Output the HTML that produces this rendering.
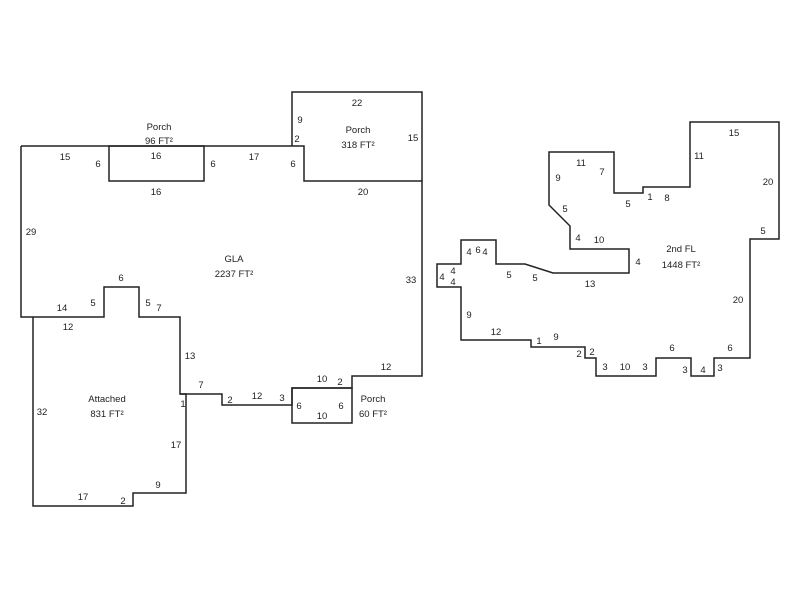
<!DOCTYPE html>
<html><head><style>body{margin:0;background:#fff}svg{display:block}text{font-family:"Liberation Sans",sans-serif;font-size:9.5px;fill:#222;text-anchor:middle}</style></head><body>
<svg width="800" height="600" viewBox="0 0 800 600" xmlns="http://www.w3.org/2000/svg">
<g fill="none" stroke="#222" stroke-width="1.5">
<polyline points="21,146 292,146 304,146 304,181 422,181 422,376 352,376 352,388 292,388 292,405 222,405 222,394 180,394 180,317 139,317 139,287 104,287 104,317 21,317 21,146"/>
<rect x="109" y="146" width="95" height="35"/>
<polyline points="292,146 292,92 422,92 422,181"/>
<rect x="292" y="388" width="60" height="35"/>
<polyline points="33,317 33,506 133,506 133,493 186,493 186,394 180,394"/>
<polygon points="690,122 779,122 779,239 750,239 750,358 714,358 714,376 691,376 691,358 656,358 656,376 596,376 596,358 585,358 585,347 531,347 531,340 461,340 461,287 437,287 437,264 461,264 461,240 496,240 496,264 525,264 553,273 629,273 629,249 570,249 570,226 549,205 549,152 614,152 614,193 643,193 643,187 690,187"/>
</g>
<g>
<text x="159" y="130">Porch</text><text x="159" y="144">96 FT²</text>
<text x="358" y="133">Porch</text><text x="358" y="148">318 FT²</text>
<text x="234" y="262">GLA</text><text x="234" y="277">2237 FT²</text>
<text x="107" y="402">Attached</text><text x="107" y="417">831 FT²</text>
<text x="373" y="402">Porch</text><text x="373" y="417">60 FT²</text>
<text x="681" y="252">2nd FL</text><text x="681" y="268">1448 FT²</text>
<text x="65" y="160">15</text><text x="98" y="167">6</text><text x="156" y="159">16</text><text x="213" y="167">6</text><text x="156" y="195">16</text><text x="254" y="160">17</text><text x="293" y="167">6</text>
<text x="300" y="123">9</text><text x="297" y="142">2</text><text x="357" y="106">22</text><text x="413" y="141">15</text><text x="363" y="195">20</text>
<text x="31" y="235">29</text><text x="411" y="283">33</text>
<text x="121" y="281">6</text><text x="62" y="311">14</text><text x="93" y="306">5</text><text x="148" y="306">5</text><text x="159" y="311">7</text><text x="68" y="330">12</text>
<text x="190" y="359">13</text><text x="201" y="388">7</text><text x="183" y="407">1</text><text x="230" y="403">2</text><text x="257" y="399">12</text><text x="282" y="401">3</text>
<text x="322" y="382">10</text><text x="340" y="385">2</text><text x="386" y="370">12</text><text x="299" y="409">6</text><text x="341" y="409">6</text><text x="322" y="419">10</text>
<text x="42" y="415">32</text><text x="176" y="448">17</text><text x="158" y="488">9</text><text x="83" y="500">17</text><text x="123" y="504">2</text>
<text x="734" y="136">15</text><text x="699" y="159">11</text><text x="768" y="185">20</text><text x="763" y="234">5</text><text x="738" y="303">20</text>
<text x="581" y="166">11</text><text x="602" y="175">7</text><text x="558" y="181">9</text><text x="628" y="207">5</text><text x="650" y="200">1</text><text x="667" y="201">8</text>
<text x="565" y="212">5</text><text x="578" y="241">4</text><text x="599" y="243">10</text><text x="638" y="265">4</text><text x="590" y="287">13</text>
<text x="469" y="255">4</text><text x="478" y="253">6</text><text x="485" y="255">4</text><text x="509" y="278">5</text><text x="535" y="281">5</text>
<text x="442" y="280">4</text><text x="453" y="274">4</text><text x="453" y="285">4</text>
<text x="469" y="318">9</text><text x="496" y="335">12</text><text x="539" y="344">1</text><text x="556" y="340">9</text><text x="579" y="357">2</text><text x="592" y="355">2</text>
<text x="605" y="370">3</text><text x="625" y="370">10</text><text x="645" y="370">3</text><text x="672" y="351">6</text><text x="685" y="373">3</text><text x="703" y="373">4</text><text x="720" y="371">3</text><text x="730" y="351">6</text>
</g>
</svg>
</body></html>
